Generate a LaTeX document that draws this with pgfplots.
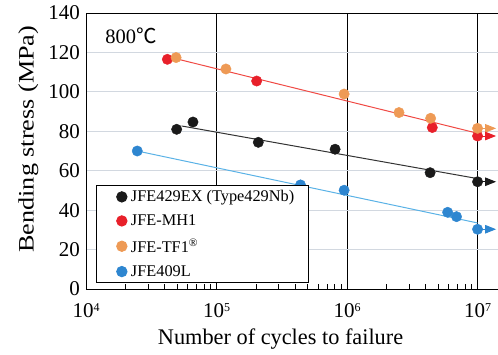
\documentclass[border=0pt]{standalone}
\usepackage{fontspec}
\setmainfont{Liberation Serif}
\newfontfamily\cjk{Noto Sans CJK SC}
\usepackage{pgfplots}
\pgfplotsset{compat=1.18}
\usetikzlibrary{arrows.meta}
\definecolor{cblack}{HTML}{1A1A1A}
\definecolor{cred}{HTML}{E8202A}
\definecolor{corange}{HTML}{EE9A55}
\definecolor{cblue}{HTML}{2E86D0}
\definecolor{lred}{HTML}{F04A44}
\definecolor{lblack}{HTML}{333333}
\definecolor{lblue}{HTML}{5AB2E6}
\definecolor{gridc}{HTML}{D2D8E0}
\newcommand{\tp}[1]{10\raisebox{6pt}{\fontsize{12}{12}\selectfont #1}}
\begin{document}
\begin{tikzpicture}
\begin{axis}[
  name=ax,
  scale only axis,
  width=414pt, height=276pt,
  xmode=log,
  xmin=1e4, xmax=1.486e7,
  ymin=0, ymax=140,
  xtick={1e4,1e5,1e6,1e7},
  xticklabels={\tp{4},\tp{5},\tp{6},\tp{7}},
  ytick={0,20,...,140},
  /pgf/number format/assume math mode=true,
  tick label style={font=\fontsize{21}{24}\selectfont},
  xticklabel style={anchor=base, yshift=-28pt},
  yticklabel style={anchor=east, xshift=-2.7pt},
  every axis x label/.style={at={([yshift=-55pt]axis description cs:0.47,0)}, anchor=base, font=\fontsize{22.3}{26}\selectfont},
  every axis y label/.style={at={([xshift=-44pt]axis description cs:0,0.543)}, rotate=90, anchor=south, font=\fontsize{22}{26}\selectfont},
  xlabel={Number of cycles to failure},
  ylabel={\scalebox{1.19}[1]{Bending stress (MPa)}},
  xmajorgrids, ymajorgrids,
  x grid style={black, line width=0.9pt},
  y grid style={gridc, line width=0.9pt},
  axis line style={black, line width=0.9pt},
  tick align=inside,
  xtick pos=bottom,
  ytick style={draw=none},
  major x tick style={draw=none},
  minor tick length=5pt,
  minor x tick style={black, line width=0.6pt},
  legend style={at={(0.024,0.021)}, anchor=south west, draw=black, line width=0.9pt, fill=white,
    font=\fontsize{16.3}{19}\selectfont, inner xsep=11pt, inner ysep=3pt,
    row sep=7.5pt, nodes={inner xsep=3.5pt}},
  legend cell align=left,
  legend image code/.code={\path (0pt,0pt); \fill (14pt,0pt) circle (5.2pt);},
  clip=false,
]
% regression lines
\addplot[lblack, line width=1pt, forget plot] coordinates {(5.4e4,82.7) (1e7,56.0)};
\addplot[lred, line width=1pt, forget plot] coordinates {(4.9e4,116.8) (1e7,79.0)};
\addplot[lblue, line width=1pt, forget plot] coordinates {(2.47e4,70.0) (1e7,33.5)};
% run-out arrows
\addplot[cblack, line width=1pt, forget plot, -{Triangle[length=11pt,width=8.5pt]}] coordinates {(1e7,54.4) (1.387e7,54.4)};
\addplot[corange, line width=1pt, forget plot, -{Triangle[length=11pt,width=8.5pt]}] coordinates {(1e7,81.5) (1.387e7,81.5)};
\addplot[cred, line width=1pt, forget plot, -{Triangle[length=11pt,width=8.5pt]}] coordinates {(1e7,77.6) (1.387e7,77.6)};
\addplot[cblue, line width=1pt, forget plot, -{Triangle[length=11pt,width=8.5pt]}] coordinates {(1e7,30.3) (1.387e7,30.3)};
% data
\addplot[only marks, mark=*, mark size=5.2pt, cblack] coordinates {
 (4.95e4,81.0) (6.6e4,84.7) (2.09e5,74.4) (8.1e5,70.9) (4.33e6,59.0) (1e7,54.4)};
\addlegendentry{JFE429EX (Type429Nb)}
\addplot[only marks, mark=*, mark size=5.2pt, cred] coordinates {
 (4.2e4,116.5) (2.03e5,105.5) (4.5e6,81.9) (1e7,77.6)};
\addlegendentry{JFE-MH1}
\addplot[only marks, mark=*, mark size=5.2pt, corange] coordinates {
 (4.9e4,117.4) (1.18e5,111.6) (9.5e5,98.9) (2.5e6,89.5) (4.37e6,86.6) (1e7,81.5)};
\addlegendentry{JFE-TF1\textsuperscript{\textregistered}}
\addplot[only marks, mark=*, mark size=5.2pt, cblue] coordinates {
 (2.47e4,70.0) (4.4e5,52.8) (9.5e5,50.1) (5.9e6,38.9) (6.9e6,36.7) (1e7,30.3)};
\addlegendentry{JFE409L}
\node[anchor=west, inner sep=0pt, font=\fontsize{20.5}{24}\selectfont] at (axis description cs:0.046,0.918) {800{\cjk ℃}};
\end{axis}
\pgfresetboundingbox
\path ([shift={(-86pt,-65pt)}]ax.south west) rectangle ([shift={(412pt,289pt)}]ax.south west);
\end{tikzpicture}
\end{document}
